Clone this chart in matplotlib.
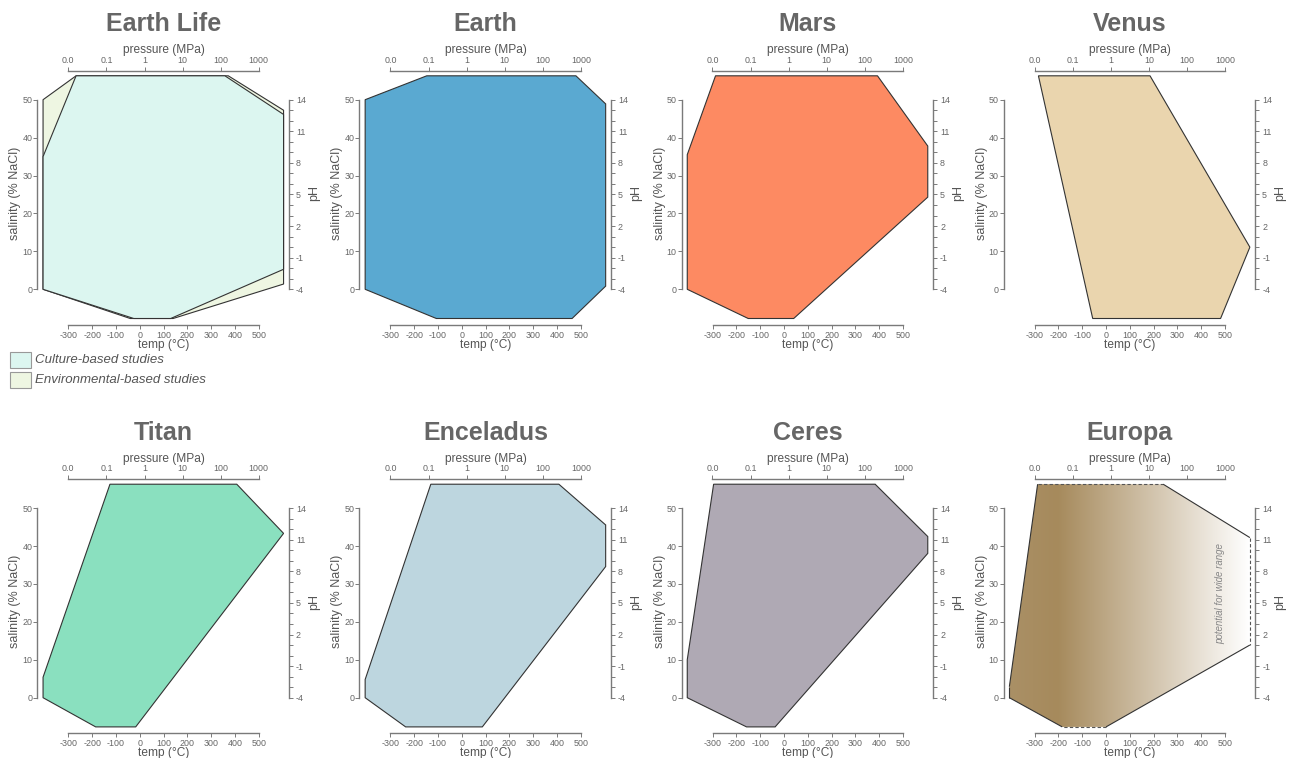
import numpy as np
import matplotlib
matplotlib.use("Agg")
import matplotlib.pyplot as plt
from matplotlib.patches import Polygon, Rectangle
from matplotlib.colors import LinearSegmentedColormap

plt.rcParams['font.family'] = ['Liberation Sans', 'DejaVu Sans']
plt.rcParams['axes.unicode_minus'] = False

# ---------------------------------------------------------------- data
bodies = ["Earth Life", "Earth", "Mars", "Venus",
          "Titan", "Enceladus", "Ceres", "Europa"]

# where each habitability region meets the four parameter edges
pressure_lo = [0.016, 0.09, 0.012, 0.0126, 0.124, 0.115, 0.0107, 0.012]   # MPa, top edge
pressure_hi = [129, 740, 214, 10.7, 264, 264, 186, 23.7]
ph_hi = [12.6, 13.6, 9.6, 0.0, 11.6, 12.4, 11.3, 11.2]                  # right edge
ph_lo = [-2.1, -3.7, 4.75, 0.0, 11.6, 8.45, 9.7, 1.0]
temp_hi = [130, 463, 41, 481, -17, 86, -37, 0]                          # °C, bottom edge
temp_lo = [-25, -107, -150, -56, -185, -236, -157, -184]
sal_lo = [0, 0, 0, None, 0, 0, 0, 0]                                    # % NaCl, left edge
sal_hi = [35, 50, 35.5, None, 5.4, 4.8, 10, 2.9]

# wider envelope for Earth life from environmental studies
env_pressure = [0.016, 158]
env_ph = [13.0, -3.5]
env_temp = [140, -40]
env_sal = [0, 50]

face_colors = ["#dcf6f0", "#5aa9d1", "#fd8a62", "#ead5ae",
               "#8ae0bf", "#bdd6df", "#afa9b4", None]
env_color = "#eef6e2"

temp_ticks = list(range(-300, 501, 100))
sal_ticks = list(range(0, 51, 10))
ph_ticks = list(range(-4, 15, 3))
ph_minor = list(range(-4, 15))
pressure_ticks = [0.01, 0.1, 1, 10, 100, 1000]
pressure_labels = ["0.0", "0.1", "1", "10", "100", "1000"]

legend_labels = ["Culture-based studies", "Environmental-based studies"]

# ---------------------------------------------------------------- layout
W, H = 1289, 758
fig = plt.figure(figsize=(W / 100, H / 100), dpi=100)

COL_X = 68.3        # pixel x of -300 °C in first column
COL_STEP = 322.1
ROW_Y = 289.3       # pixel y (from top) of 0 % NaCl in first row
ROW_STEP = 408.4
SX = 190.5 / 800    # px per °C
SY = 189.6 / 50     # px per % NaCl

XLIM = (-470, 680)
YLIM = (-13, 62)

LEFT_EDGE, RIGHT_EDGE = -406, 604
TOP_EDGE, BOTTOM_EDGE = 56.3, -7.7
SAL_SPINE, PH_SPINE = -430, 627
P_SPINE, T_SPINE = 57.7, -9.4

SPINE_C = "#7a7a7a"
TICKLBL_C = "#666666"
LABEL_C = "#555555"
TITLE_C = "#666666"
EDGE_C = "#333333"


def ph_limits(ylim):
    return tuple(-4 + v * 18 / 50 for v in ylim)


def p_limits(xlim):
    return tuple(10 ** (-2 + (v + 300) / 160) for v in xlim)


def make_panel(r, c):
    x300 = COL_X + COL_STEP * c
    y0 = ROW_Y + ROW_STEP * r
    left_px = x300 + (XLIM[0] + 300) * SX
    width_px = (XLIM[1] - XLIM[0]) * SX
    bottom_px = y0 - YLIM[0] * SY
    height_px = (YLIM[1] - YLIM[0]) * SY
    ax = fig.add_axes([left_px / W, 1 - bottom_px / H, width_px / W, height_px / H])
    ax.set_xlim(XLIM)
    ax.set_ylim(YLIM)
    ax.set_autoscale_on(False)
    ax.patch.set_visible(False)

    tick_kw = dict(direction="out", length=2.6, width=0.7, color=SPINE_C,
                   labelsize=6.4, labelcolor=TICKLBL_C)

    # temperature (bottom) and salinity (left)
    for side in ("top", "right"):
        ax.spines[side].set_visible(False)
    ax.spines["left"].set_position(("data", SAL_SPINE))
    ax.spines["left"].set_bounds(0, 50)
    ax.spines["bottom"].set_position(("data", T_SPINE))
    ax.spines["bottom"].set_bounds(-300, 500)
    for side in ("left", "bottom"):
        ax.spines[side].set_color(SPINE_C)
        ax.spines[side].set_linewidth(1.0)
    ax.set_xticks(temp_ticks)
    ax.set_yticks(sal_ticks)
    ax.tick_params(axis="x", pad=1.8, **tick_kw)
    ax.tick_params(axis="y", pad=1.0, **tick_kw)

    # pH (right)
    axr = ax.twinx()
    axr.set_ylim(ph_limits(YLIM))
    axr.set_autoscale_on(False)
    for side in ("left", "top", "bottom"):
        axr.spines[side].set_visible(False)
    axr.spines["right"].set_position(("data", PH_SPINE))
    axr.spines["right"].set_bounds(-4, 14)
    axr.spines["right"].set_color(SPINE_C)
    axr.spines["right"].set_linewidth(1.0)
    axr.set_yticks(ph_ticks)
    axr.set_yticks(ph_minor, minor=True)
    axr.tick_params(axis="y", which="both", pad=2.3, **tick_kw)

    # pressure (top, log)
    axt = ax.twiny()
    axt.set_xscale("log")
    axt.set_xlim(p_limits(XLIM))
    axt.set_autoscale_on(False)
    for side in ("left", "right", "bottom"):
        axt.spines[side].set_visible(False)
    axt.spines["top"].set_position(("data", P_SPINE))
    axt.spines["top"].set_bounds(0.01, 1000)
    axt.spines["top"].set_color(SPINE_C)
    axt.spines["top"].set_linewidth(1.0)
    axt.set_xticks(pressure_ticks)
    axt.set_xticklabels(pressure_labels)
    axt.xaxis.set_minor_locator(matplotlib.ticker.NullLocator())
    axt.tick_params(axis="x", pad=1.5, **tick_kw)

    # axis titles
    ax.text(100, 63.0, "pressure (MPa)", ha="center", va="center",
            fontsize=8.6, color=LABEL_C)
    ax.text(100, -14.7, "temp (°C)", ha="center", va="center",
            fontsize=8.6, color=LABEL_C)
    ax.text(-300 - 53.0 / SX, 25.3, "salinity (% NaCl)", rotation=90,
            ha="center", va="center", fontsize=9, color=LABEL_C)
    ax.text(500 + 55.0 / SX, 25.3, "pH", rotation=90,
            ha="center", va="center", fontsize=9, color=LABEL_C)
    return ax, axr, axt


def region_vertices(ax, axr, axt, p, ph, t, s):
    inv = ax.transData.inverted()
    pts = []
    for v in p:
        pts.append(inv.transform(axt.transData.transform((v, TOP_EDGE))))
    for v in ph:
        pts.append(inv.transform(axr.transData.transform((RIGHT_EDGE, v))))
    for v in t:
        pts.append((v, BOTTOM_EDGE))
    for v in s:
        if v is not None:
            pts.append((LEFT_EDGE, v))
    return np.array(pts, dtype=float)


europa_cmap = LinearSegmentedColormap.from_list(
    "europa", [(0.0, "#aa9066"), (0.2, "#a68a5c"), (1.0, "#ffffff")])

for i, name in enumerate(bodies):
    r, c = divmod(i, 4)
    ax, axr, axt = make_panel(r, c)

    ax.text(100, 68.0, name, ha="center", va="baseline", fontsize=18,
            fontweight="bold", color=TITLE_C)

    verts = region_vertices(ax, axr, axt,
                            (pressure_lo[i], pressure_hi[i]),
                            (ph_hi[i], ph_lo[i]),
                            (temp_hi[i], temp_lo[i]),
                            (sal_lo[i], sal_hi[i]))

    if i == 0:
        env = region_vertices(ax, axr, axt, env_pressure, env_ph, env_temp, env_sal)
        ax.add_patch(Polygon(env, closed=True, facecolor=env_color,
                             edgecolor=EDGE_C, linewidth=0.8, zorder=2))

    if face_colors[i] is not None:
        ax.add_patch(Polygon(verts, closed=True, facecolor=face_colors[i],
                             edgecolor=EDGE_C, linewidth=0.8, zorder=3))
    else:
        clip = Polygon(verts, closed=True, facecolor="none", edgecolor="none")
        ax.add_patch(clip)
        grad = np.linspace(0, 1, 512).reshape(1, -1)
        im = ax.imshow(grad, extent=(LEFT_EDGE, RIGHT_EDGE, BOTTOM_EDGE, TOP_EDGE),
                       aspect="auto", cmap=europa_cmap, origin="lower",
                       interpolation="bilinear", zorder=2)
        im.set_clip_path(clip)
        n = len(verts)
        dashed_edges = {0, 2, 4}
        for k in range(n):
            a, b = verts[k], verts[(k + 1) % n]
            ax.plot([a[0], b[0]], [a[1], b[1]],
                    color=EDGE_C if k not in dashed_edges else "#555555",
                    linewidth=0.8, linestyle=(0, (3, 2)) if k in dashed_edges else "-",
                    solid_capstyle="butt", zorder=3)
        ax.text(478, 27.5, "potential for wide range", rotation=90,
                ha="center", va="center", fontsize=7, style="italic",
                color="#888888", zorder=4)

    ax.set_xlim(XLIM)
    ax.set_ylim(YLIM)

# legend under the first panel
for k, (lbl, col) in enumerate(zip(legend_labels, [face_colors[0], env_color])):
    y_top = 352 + 20 * k
    fig.add_artist(Rectangle((10 / W, 1 - (y_top + 16) / H), 21 / W, 16 / H,
                             transform=fig.transFigure, facecolor=col,
                             edgecolor="#999999", linewidth=0.8))
    fig.text(35 / W, 1 - (y_top + 8) / H, lbl, ha="left", va="center",
             fontsize=9.5, style="italic", color="#555555")

fig.savefig("out.png", dpi=100, facecolor="white")
